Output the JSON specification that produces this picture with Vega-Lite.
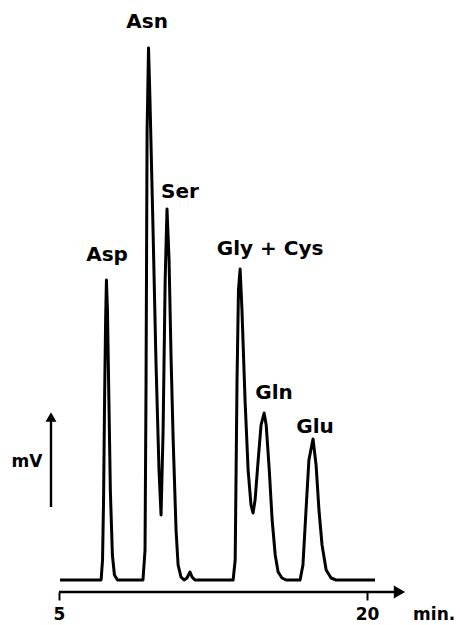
{
  "$schema": "https://vega.github.io/schema/vega-lite/v6.json",
  "width": 346,
  "height": 592,
  "autosize": {"type": "none"},
  "padding": {"left": 59, "top": 0, "right": 55, "bottom": 33},
  "background": "white",
  "config": {"view": {"stroke": null}},
  "datasets": {
    "trace": [
      {"t": 5.05, "v": 0}, {"t": 7.05, "v": 0}, {"t": 7.12, "v": 20}, {"t": 7.17, "v": 80},
      {"t": 7.22, "v": 180}, {"t": 7.27, "v": 260}, {"t": 7.31, "v": 300}, {"t": 7.36, "v": 270},
      {"t": 7.43, "v": 180}, {"t": 7.5, "v": 90}, {"t": 7.6, "v": 25}, {"t": 7.7, "v": 5},
      {"t": 7.85, "v": 0}, {"t": 9.09, "v": 0}, {"t": 9.19, "v": 30}, {"t": 9.24, "v": 200},
      {"t": 9.29, "v": 450}, {"t": 9.36, "v": 532}, {"t": 9.43, "v": 480}, {"t": 9.58, "v": 350},
      {"t": 9.72, "v": 220}, {"t": 9.87, "v": 110}, {"t": 9.97, "v": 65}, {"t": 10.07, "v": 150},
      {"t": 10.17, "v": 300}, {"t": 10.26, "v": 371}, {"t": 10.36, "v": 320}, {"t": 10.46, "v": 220},
      {"t": 10.56, "v": 140}, {"t": 10.7, "v": 50}, {"t": 10.8, "v": 15}, {"t": 10.94, "v": 3},
      {"t": 11.09, "v": 0}, {"t": 11.23, "v": 2}, {"t": 11.38, "v": 8}, {"t": 11.48, "v": 3},
      {"t": 11.62, "v": 0}, {"t": 13.48, "v": 0}, {"t": 13.58, "v": 20}, {"t": 13.62, "v": 100},
      {"t": 13.67, "v": 200}, {"t": 13.74, "v": 290}, {"t": 13.82, "v": 311}, {"t": 13.91, "v": 270},
      {"t": 14.06, "v": 180}, {"t": 14.21, "v": 110}, {"t": 14.35, "v": 75}, {"t": 14.45, "v": 67},
      {"t": 14.55, "v": 80}, {"t": 14.7, "v": 120}, {"t": 14.84, "v": 155}, {"t": 14.99, "v": 167},
      {"t": 15.09, "v": 155}, {"t": 15.24, "v": 110}, {"t": 15.38, "v": 60}, {"t": 15.53, "v": 25},
      {"t": 15.67, "v": 8}, {"t": 15.86, "v": 2}, {"t": 16.06, "v": 0}, {"t": 16.74, "v": 0},
      {"t": 16.88, "v": 15}, {"t": 17.03, "v": 70}, {"t": 17.17, "v": 120}, {"t": 17.37, "v": 141},
      {"t": 17.52, "v": 115}, {"t": 17.66, "v": 70}, {"t": 17.81, "v": 35}, {"t": 18.01, "v": 10},
      {"t": 18.25, "v": 2}, {"t": 18.49, "v": 0}, {"t": 20.39, "v": 0}
    ],
    "labels": [
      {"t": 9.29, "v": 558, "label": "Asn"},
      {"t": 10.89, "v": 388, "label": "Ser"},
      {"t": 7.34, "v": 325, "label": "Asp"},
      {"t": 15.28, "v": 331, "label": "Gly + Cys"},
      {"t": 15.47, "v": 187, "label": "Gln"},
      {"t": 17.47, "v": 153, "label": "Glu"}
    ],
    "axisnotes": [
      {"t": 3.44, "v": 118, "label": "mV"},
      {"t": 23.27, "v": -35, "label": "min."}
    ]
  },
  "encoding": {
    "x": {
      "field": "t", "type": "quantitative",
      "scale": {"domain": [5, 21.85], "nice": false, "zero": false},
      "axis": {
        "values": [5, 20], "domain": false, "grid": false, "title": null,
        "ticks": true, "tickSize": 8, "tickWidth": 2, "tickColor": "black",
        "labelFont": "DejaVu Sans", "labelFontWeight": "bold", "labelFontSize": 17,
        "labelColor": "black", "labelPadding": 6, "labelFlush": false, "labelOverlap": false, "format": "d"
      }
    },
    "y": {
      "field": "v", "type": "quantitative",
      "scale": {"domain": [-12, 580], "nice": false, "zero": false},
      "axis": null
    }
  },
  "layer": [
    {
      "data": {"name": "trace"},
      "mark": {"type": "line", "color": "black", "strokeWidth": 3, "strokeJoin": "round"}
    },
    {
      "data": {"values": [{"t": 5, "t2": 21.45, "v": -12}]},
      "mark": {"type": "rule", "color": "black", "strokeWidth": 2.4},
      "encoding": {"x2": {"field": "t2"}}
    },
    {
      "data": {"values": [{"t": 21.58, "v": -12}]},
      "mark": {"type": "point", "shape": "triangle-right", "filled": true, "color": "black", "size": 170, "opacity": 1}
    },
    {
      "data": {"values": [{"t": 4.61, "v": 73, "v2": 160}]},
      "mark": {"type": "rule", "color": "black", "strokeWidth": 2.4},
      "encoding": {"y2": {"field": "v2"}}
    },
    {
      "data": {"values": [{"t": 4.61, "v": 163}]},
      "mark": {"type": "point", "shape": "triangle-up", "filled": true, "color": "black", "size": 120, "opacity": 1}
    },
    {
      "data": {"name": "labels"},
      "mark": {"type": "text", "font": "DejaVu Sans", "fontWeight": "bold", "fontSize": 20, "color": "black", "align": "center", "baseline": "middle"},
      "encoding": {"text": {"field": "label"}}
    },
    {
      "data": {"name": "axisnotes"},
      "mark": {"type": "text", "font": "DejaVu Sans", "fontWeight": "bold", "fontSize": 17, "color": "black", "align": "center", "baseline": "middle"},
      "encoding": {"text": {"field": "label"}}
    }
  ]
}
